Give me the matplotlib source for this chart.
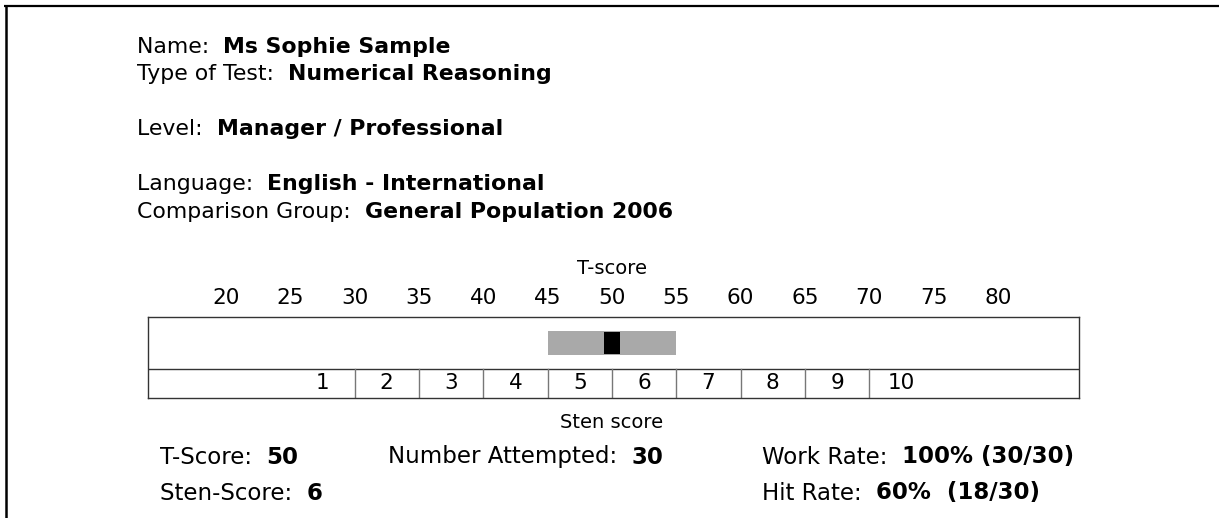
import matplotlib
matplotlib.use("Agg")
import matplotlib.pyplot as plt
from matplotlib.patches import Rectangle

# header details (label, bold value)
header_labels = ["Name:", "Type of Test:", "Level:", "Language:", "Comparison Group:"]
header_values = ["Ms Sophie Sample", "Numerical Reasoning", "Manager / Professional",
                 "English - International", "General Population 2006"]
header_rows = [0, 1, 3, 5, 6]

# T-score scale and result
t_ticks = [20, 25, 30, 35, 40, 45, 50, 55, 60, 65, 70, 75, 80]
sten_edges = [30, 35, 40, 45, 50, 55, 60, 65, 70]
sten_labels = ["1", "2", "3", "4", "5", "6", "7", "8", "9", "10"]
sten_centers = [27.5, 32.5, 37.5, 42.5, 47.5, 52.5, 57.5, 62.5, 67.5, 72.5]
t_score = 50
band_low, band_high = 45, 55

# summary lines under the chart
summary_labels = ["T-Score:", "Number Attempted:", "Work Rate:", "Sten-Score:", "Hit Rate:"]
summary_values = ["50", "30", "100% (30/30)", "6", "60%  (18/30)"]

W, H = 1219, 518
fig = plt.figure(figsize=(W / 100, H / 100), dpi=100)
plt.rcParams["font.family"] = "DejaVu Sans"

# full-figure axes in pixel coordinates for the text and frame
bg = fig.add_axes([0, 0, 1, 1])
bg.set_xlim(0, W)
bg.set_ylim(H, 0)
bg.axis("off")

bg.plot([4, W], [5.5, 5.5], color="black", lw=1.6, solid_capstyle="butt")
bg.plot([5.5, 5.5], [5, H], color="black", lw=1.8, solid_capstyle="butt")


def label_value(x, y, label, value, size):
    t = bg.text(x, y, label + "  ", fontsize=size, va="center", ha="left")
    bg.annotate(value, xy=(1, 0), xycoords=t, va="bottom", ha="left",
                fontsize=size, fontweight="bold")


row_y = [47, 74, 101, 129, 156, 184, 212]
for lab, val, r in zip(header_labels, header_values, header_rows):
    label_value(137, row_y[r], lab, val, 15.8)

# score chart
x0, x1, y0, y1 = 148, 1079, 317, 398
ax = fig.add_axes([x0 / W, 1 - y1 / H, (x1 - x0) / W, (y1 - y0) / H])
ax.set_xlim(13.95, 86.3)
ax.set_ylim(0, 1)
ax.set_xticks([])
ax.set_yticks([])
for s in ax.spines.values():
    s.set_color("#333333")
    s.set_linewidth(1.0)

div = 0.354
ax.axhline(div, color="#333333", lw=1.0)
for e in sten_edges:
    ax.plot([e, e], [0, div], color="#777777", lw=1.0)
for c, lab in zip(sten_centers, sten_labels):
    ax.text(c, 0.18, lab, ha="center", va="center", fontsize=15.5)

ax.add_patch(Rectangle((band_low, 0.53), band_high - band_low, 0.30,
                       facecolor="#a9a9a9", edgecolor="none"))
ax.add_patch(Rectangle((t_score - 0.6, 0.54), 1.2, 0.28,
                       facecolor="black", edgecolor="none"))

for t in t_ticks:
    ax.text(t, 1.23, str(t), ha="center", va="center", fontsize=15.5,
            transform=ax.get_xaxis_transform(), clip_on=False)
ax.text(50, 1.6, "T-score", ha="center", va="center", fontsize=14,
        transform=ax.get_xaxis_transform(), clip_on=False)
ax.text(50, -0.3, "Sten score", ha="center", va="center", fontsize=14,
        transform=ax.get_xaxis_transform(), clip_on=False)

summary_pos = [(160, 457), (388, 457), (762, 457), (160, 493), (762, 493)]
for lab, val, (sx, sy) in zip(summary_labels, summary_values, summary_pos):
    label_value(sx, sy, lab, val, 16.5)

fig.savefig("out.png", dpi=100)
